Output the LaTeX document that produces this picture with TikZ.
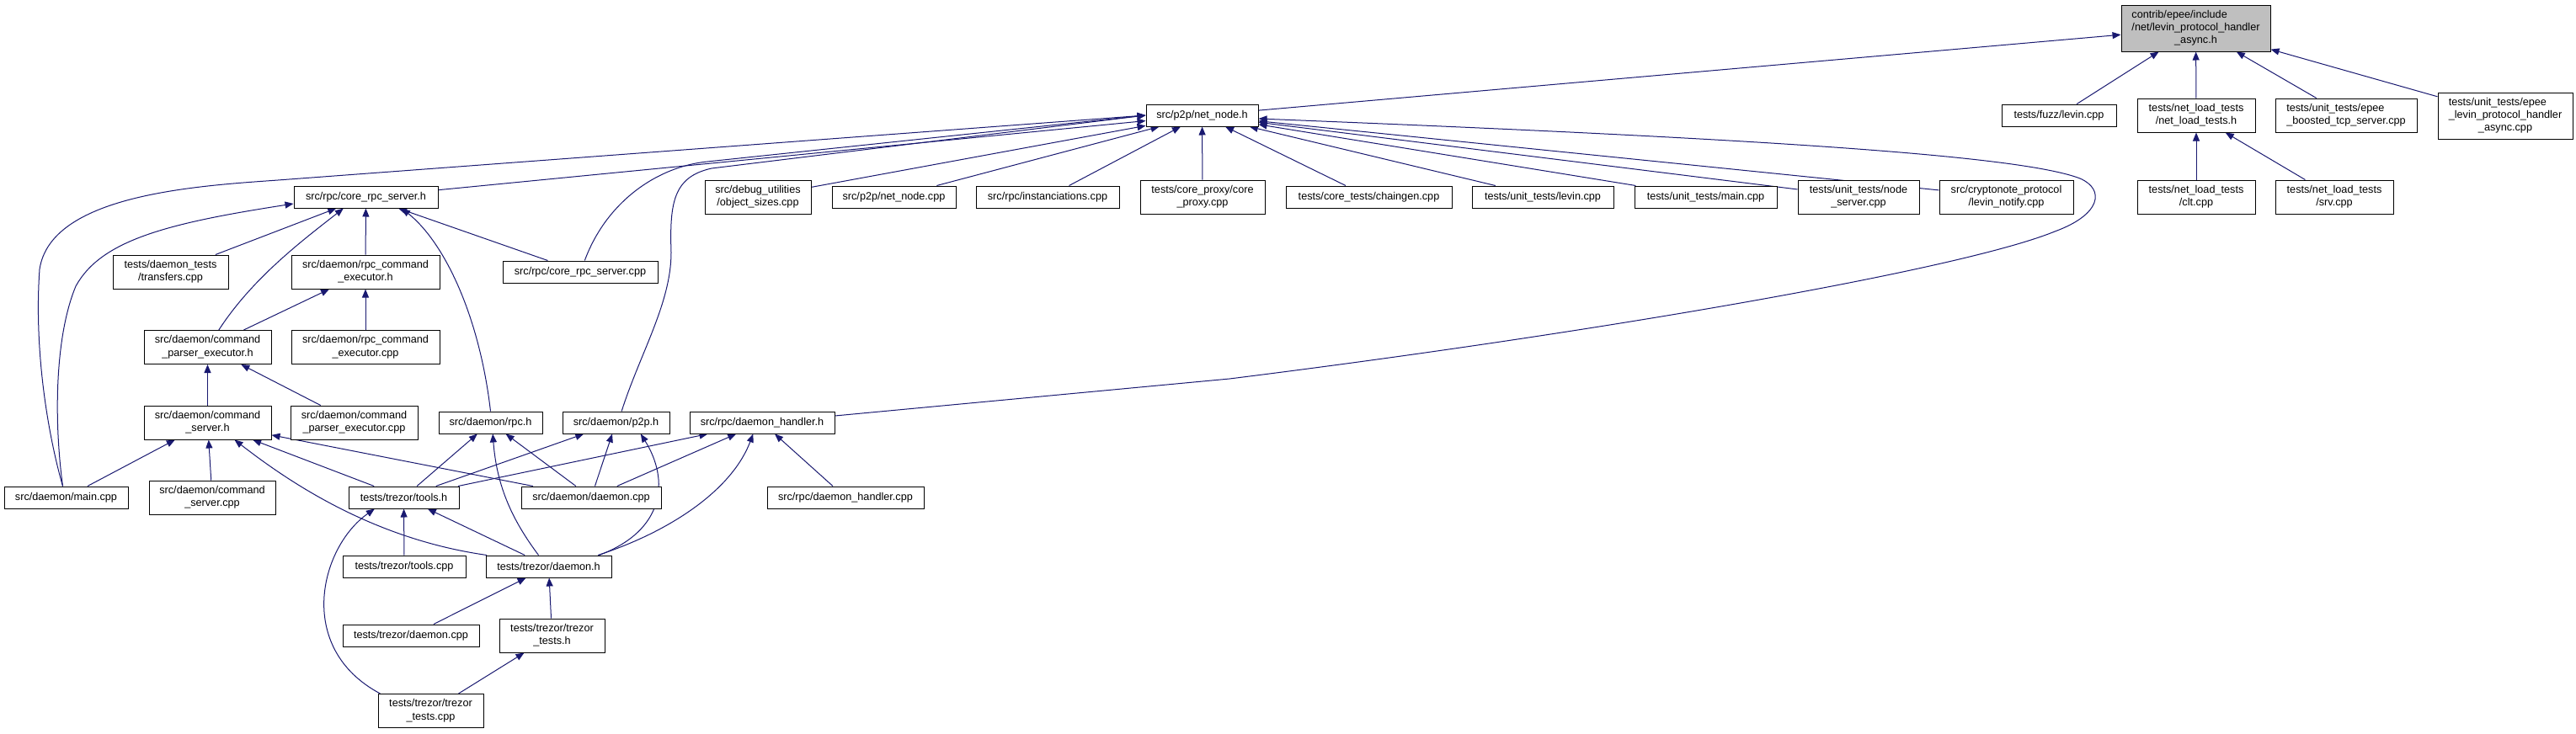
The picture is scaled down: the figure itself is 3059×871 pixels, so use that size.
\documentclass[tikz,border=0pt]{standalone}
\usepackage{fontspec}
\setmainfont{Liberation Sans}
\usepackage{tikz}
\usetikzlibrary{arrows.meta}
\pgfdeclarelayer{background}
\pgfsetlayers{background,main}
\definecolor{dxAzul}{HTML}{191970}
\definecolor{dxGris}{HTML}{BFBFBF}
\newcommand{\dxlabel}[2]{\begin{tabular}{@{}l@{}}#1\\\multicolumn{1}{@{}c@{}}{#2}\end{tabular}}

\begin{document}
\begin{tikzpicture}[
  x=0.75pt, y=-0.75pt,
  incl/.style={{Triangle[length=7.5pt, width=6pt]}-, dxAzul, line width=0.75pt},
  box/.style={draw=black, fill=white, line width=0.75pt, inner sep=0pt, minimum height=19.5pt,
              font=\fontsize{9.5}{11.5}\selectfont, align=center},
  wd/.style={minimum width=#1*0.75pt},
  h2/.style={minimum height=30pt},
  h3/.style={minimum height=41.25pt}
]
  \useasboundingbox (0,0) rectangle (3059,871);

  % --- Raiz ---
  \node[box, fill=dxGris, wd=177, h3] (root) at (2607.5,33.5)
    {\dxlabel{contrib/epee/include\\/net/levin\_protocol\_handler}{\_async.h}};

  % --- Nivel 1 ---
  \node[box, wd=133] (netnode) at (1427.5,137) {src/p2p/net\_node.h};
  \node[box, wd=136] (fuzzlevin) at (2445,137) {tests/fuzz/levin.cpp};
  \node[box, wd=140, h2] (nlth) at (2608,137) {\dxlabel{tests/net\_load\_tests}{/net\_load\_tests.h}};
  \node[box, wd=168, h2] (boosted) at (2786,137) {\dxlabel{tests/unit\_tests/epee}{\_boosted\_tcp\_server.cpp}};
  \node[box, wd=160, h3] (levinasync) at (2975,137.5)
    {\dxlabel{tests/unit\_tests/epee\\\_levin\_protocol\_handler}{\_async.cpp}};

  % --- Nivel 2 ---
  \node[box, wd=171] (rpcsrvh) at (434.5,234) {src/rpc/core\_rpc\_server.h};
  \node[box, wd=126, h2] (debugsz) at (900,234) {\dxlabel{src/debug\_utilities}{/object\_sizes.cpp}};
  \node[box, wd=147] (netnodecpp) at (1061.5,234) {src/p2p/net\_node.cpp};
  \node[box, wd=170] (inst) at (1244,234) {src/rpc/instanciations.cpp};
  \node[box, wd=148, h2] (coreproxy) at (1428,234) {\dxlabel{tests/core\_proxy/core}{\_proxy.cpp}};
  \node[box, wd=197] (chaingen) at (1625.5,234) {tests/core\_tests/chaingen.cpp};
  \node[box, wd=168] (utlevin) at (1832,234) {tests/unit\_tests/levin.cpp};
  \node[box, wd=169] (utmain) at (2025.5,234) {tests/unit\_tests/main.cpp};
  \node[box, wd=144, h2] (nodeserver) at (2207,234) {\dxlabel{tests/unit\_tests/node}{\_server.cpp}};
  \node[box, wd=159, h2] (levinnotify) at (2382.5,234) {\dxlabel{src/cryptonote\_protocol}{/levin\_notify.cpp}};
  \node[box, wd=140, h2] (clt) at (2608,234) {\dxlabel{tests/net\_load\_tests}{/clt.cpp}};
  \node[box, wd=140, h2] (srv) at (2772,234) {\dxlabel{tests/net\_load\_tests}{/srv.cpp}};

  % --- Nivel 3 ---
  \node[box, wd=137, h2] (transfers) at (202.5,323) {\dxlabel{tests/daemon\_tests}{/transfers.cpp}};
  \node[box, wd=176, h2] (rpcexech) at (434,323) {\dxlabel{src/daemon/rpc\_command}{\_executor.h}};
  \node[box, wd=184] (rpcsrvcpp) at (689,323) {src/rpc/core\_rpc\_server.cpp};

  % --- Nivel 4 ---
  \node[box, wd=151, h2] (cmdparseh) at (246.5,412.5) {\dxlabel{src/daemon/command}{\_parser\_executor.h}};
  \node[box, wd=176, h2] (rpcexeccpp) at (434,412.5) {\dxlabel{src/daemon/rpc\_command}{\_executor.cpp}};

  % --- Nivel 5 ---
  \node[box, wd=151, h2] (cmdserverh) at (246.5,502) {\dxlabel{src/daemon/command}{\_server.h}};
  \node[box, wd=151, h2] (cmdparsecpp) at (420.5,502) {\dxlabel{src/daemon/command}{\_parser\_executor.cpp}};
  \node[box, wd=123] (drpch) at (582.5,502) {src/daemon/rpc.h};
  \node[box, wd=127] (dp2ph) at (731.5,502) {src/daemon/p2p.h};
  \node[box, wd=172] (dhandlerh) at (905,502) {src/rpc/daemon\_handler.h};

  % --- Nivel 6 ---
  \node[box, wd=147] (dmain) at (78.5,591) {src/daemon/main.cpp};
  \node[box, wd=150, h2] (cmdservercpp) at (252,591) {\dxlabel{src/daemon/command}{\_server.cpp}};
  \node[box, wd=131] (ttoolsh) at (479.5,591) {tests/trezor/tools.h};
  \node[box, wd=166] (ddaemoncpp) at (702,591) {src/daemon/daemon.cpp};
  \node[box, wd=186] (dhandlercpp) at (1004,591) {src/rpc/daemon\_handler.cpp};

  % --- Nivel 7 ---
  \node[box, wd=146] (ttoolscpp) at (480,673) {tests/trezor/tools.cpp};
  \node[box, wd=149] (tdaemonh) at (651.5,673) {tests/trezor/daemon.h};

  % --- Nivel 8 ---
  \node[box, wd=162] (tdaemoncpp) at (488,755) {tests/trezor/daemon.cpp};
  \node[box, wd=125, h2] (ttestsh) at (655.5,755) {\dxlabel{tests/trezor/trezor}{\_tests.h}};
  \node[box, wd=125, h2] (ttestscpp) at (511.5,844.5) {\dxlabel{tests/trezor/trezor}{\_tests.cpp}};

  \begin{pgfonlayer}{background}
    % --- Aristas hacia la raiz ---
    \draw[incl] (root) -- (netnode);
    \draw[incl] (root) -- (fuzzlevin);
    \draw[incl] (root) -- (nlth);
    \draw[incl] (root) -- (boosted);
    \draw[incl] (root) -- (levinasync);
    \draw[incl] (nlth) -- (clt);
    \draw[incl] (nlth) -- (srv);

    % --- Aristas hacia net_node.h ---
    \draw[incl] (netnode) -- (rpcsrvh);
    \draw[incl] (netnode) -- (debugsz);
    \draw[incl] (netnode) -- (netnodecpp);
    \draw[incl] (netnode) -- (inst);
    \draw[incl] (netnode) -- (coreproxy);
    \draw[incl] (netnode) -- (chaingen);
    \draw[incl] (netnode) -- (utlevin);
    \draw[incl] (netnode) -- (utmain);
    \draw[incl] (netnode) -- (nodeserver);
    \draw[incl] (netnode) -- (levinnotify);
    \draw[incl] (netnode.west) -- (330,214) .. controls (230,221) and (60,232) .. (47,320)
      .. controls (40,420) and (58,520) .. ([xshift=-3pt]dmain.north);
    \draw[incl] (netnode.west) -- (840,192) .. controls (780,198) and (720,240) .. ([xshift=4pt]rpcsrvcpp.north);
    \draw[incl] (netnode.west) -- (845,200) .. controls (800,210) and (795,240) .. (797,300)
      .. controls (797,360) and (760,420) .. ([xshift=5pt]dp2ph.north);
    \draw[incl] ([yshift=-3pt]netnode.east) .. controls (2100,165) and (2400,185) .. (2470,212)
      .. controls (2500,225) and (2495,255) .. (2440,275)
      .. controls (2330,320) and (1900,395) .. (1460,450) -- ([yshift=6pt]dhandlerh.east);

    % --- Aristas hacia core_rpc_server.h ---
    \draw[incl] (rpcsrvh) -- (transfers);
    \draw[incl] (rpcsrvh) -- (rpcexech);
    \draw[incl] (rpcsrvh) -- (rpcsrvcpp);
    \draw[incl] ([xshift=-20pt]rpcsrvh.south) .. controls (360,285) and (300,330) .. ([xshift=10pt]cmdparseh.north);
    \draw[incl] ([xshift=32pt]rpcsrvh.south) .. controls (530,290) and (570,380) .. (drpch.north);
    \draw[incl] ([yshift=-6pt]rpcsrvh.west) .. controls (200,265) and (120,285) .. (90,340)
      .. controls (65,400) and (64,500) .. ([xshift=-3pt]dmain.north);

    % --- Ejecutores y comandos ---
    \draw[incl] (rpcexech) -- (cmdparseh);
    \draw[incl] (rpcexech) -- (rpcexeccpp);
    \draw[incl] (cmdparseh) -- (cmdserverh);
    \draw[incl] (cmdparseh) -- (cmdparsecpp);
    \draw[incl] (cmdserverh) -- (dmain);
    \draw[incl] (cmdserverh) -- (cmdservercpp);
    \draw[incl] (cmdserverh) -- (ttoolsh);
    \draw[incl] (cmdserverh) -- (ddaemoncpp);
    \draw[incl] ([xshift=24pt]cmdserverh.south) .. controls (340,570) and (440,640) .. ([xshift=-55pt]tdaemonh.north);

    % --- rpc.h, p2p.h, daemon_handler.h ---
    \draw[incl] (drpch) -- (ttoolsh);
    \draw[incl] (drpch) -- (ddaemoncpp);
    \draw[incl] ([xshift=2pt]drpch.south) .. controls (590,580) and (610,620) .. ([xshift=-9pt]tdaemonh.north);
    \draw[incl] (dp2ph) -- (ttoolsh);
    \draw[incl] (dp2ph) -- (ddaemoncpp);
    \draw[incl] ([xshift=22pt]dp2ph.south) .. controls (795,570) and (790,630) .. ([xshift=45pt]tdaemonh.north);
    \draw[incl] (dhandlerh) -- (ttoolsh);
    \draw[incl] (dhandlerh) -- (ddaemoncpp);
    \draw[incl] ([xshift=-8pt]dhandlerh.south) .. controls (870,580) and (800,630) .. ([xshift=44pt]tdaemonh.north);
    \draw[incl] (dhandlerh) -- (dhandlercpp);

    % --- trezor ---
    \draw[incl] (ttoolsh) -- (ttoolscpp);
    \draw[incl] (ttoolsh) -- (tdaemonh);
    \draw[incl] ([xshift=-26pt]ttoolsh.south) .. controls (380,650) and (350,770) .. ([xshift=-45pt]ttestscpp.north);
    \draw[incl] (tdaemonh) -- (tdaemoncpp);
    \draw[incl] (tdaemonh) -- (ttestsh);
    \draw[incl] (ttestsh) -- (ttestscpp);
  \end{pgfonlayer}
\end{tikzpicture}
\end{document}
